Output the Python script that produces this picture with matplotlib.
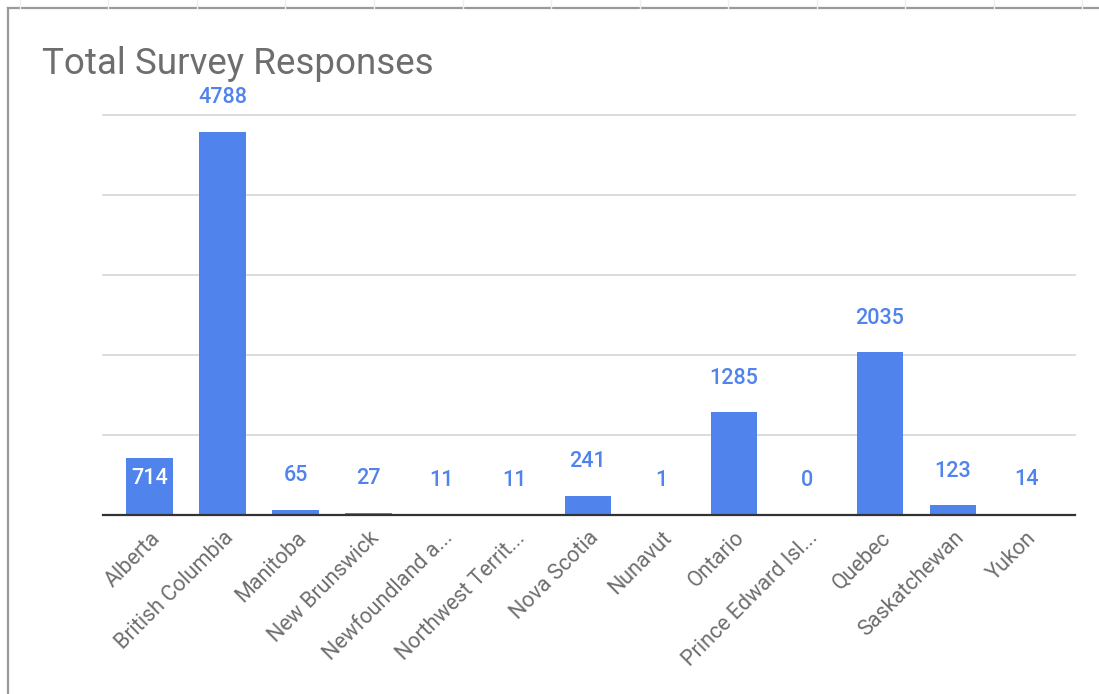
import matplotlib
matplotlib.use('Agg')
import matplotlib.pyplot as plt
from matplotlib.lines import Line2D

categories = ["Alberta", "British Columbia", "Manitoba", "New Brunswick",
              "Newfoundland a...", "Northwest Territ...", "Nova Scotia", "Nunavut",
              "Ontario", "Prince Edward Isl...", "Quebec", "Saskatchewan", "Yukon"]
values = [714, 4788, 65, 27, 11, 11, 241, 1, 1285, 0, 2035, 123, 14]
y_gridlines = [0, 1000, 2000, 3000, 4000, 5000]
title = "Total Survey Responses"
labels_inside = {"Alberta"}

plt.rcParams['font.family'] = ['Roboto', 'DejaVu Sans']

W, H = 1099, 694
fig = plt.figure(figsize=(W / 100, H / 100), dpi=100)
ax = fig.add_axes([103 / W, 1 - 515 / H, (1075 - 103) / W, (515 - 115) / H])

x = list(range(len(categories)))
bar_color = '#5083EC'
ax.bar(x, values, width=0.64, color=bar_color, zorder=3)
ax.set_xlim(-0.64, 12.67)
ax.set_ylim(0, 5000)

for g in y_gridlines[1:]:
    ax.axhline(g, color='#d6d6d6', lw=1.2, zorder=1, clip_on=False)
ax.axhline(0, color='#333333', lw=1.6, zorder=4, clip_on=False)

for s in ax.spines.values():
    s.set_visible(False)
ax.set_yticks([])
ax.set_xticks(x)
ax.set_xticklabels(categories, rotation=45, ha='right', va='top',
                   rotation_mode='anchor', fontsize=15.5, color='#6e6e6e')
ax.tick_params(axis='x', length=0, pad=9)

for xi, (cat, v) in enumerate(zip(categories, values)):
    if cat in labels_inside:
        ax.annotate(str(v), (xi, v), xytext=(0, -14.5), textcoords='offset points',
                    ha='center', va='center', color='white', fontsize=15.5,
                    fontweight='medium', zorder=5)
    else:
        ax.annotate(str(v), (xi, v), xytext=(0, 24.5), textcoords='offset points',
                    ha='center', va='center', color=bar_color, fontsize=15.5,
                    fontweight='medium', zorder=5)

fig.text(42 / W, 1 - 64 / H, title, fontsize=26.5, color='#6e6e6e', ha='left',
         va='center')

# frame lines
fig.add_artist(Line2D([8 / W, 1], [1 - 8 / H, 1 - 8 / H], transform=fig.transFigure,
                      color='#9a9a9a', lw=1.6))
fig.add_artist(Line2D([8 / W, 8 / W], [0, 1 - 8 / H], transform=fig.transFigure,
                      color='#9a9a9a', lw=1.6))
for px in [20, 108, 197, 285, 374, 463, 551, 640, 728, 817, 905, 994, 1082]:
    fig.add_artist(Line2D([px / W, px / W], [1 - 8 / H, 1], transform=fig.transFigure,
                          color='#efefef', lw=1.0))

fig.savefig('out.png', dpi=100)
